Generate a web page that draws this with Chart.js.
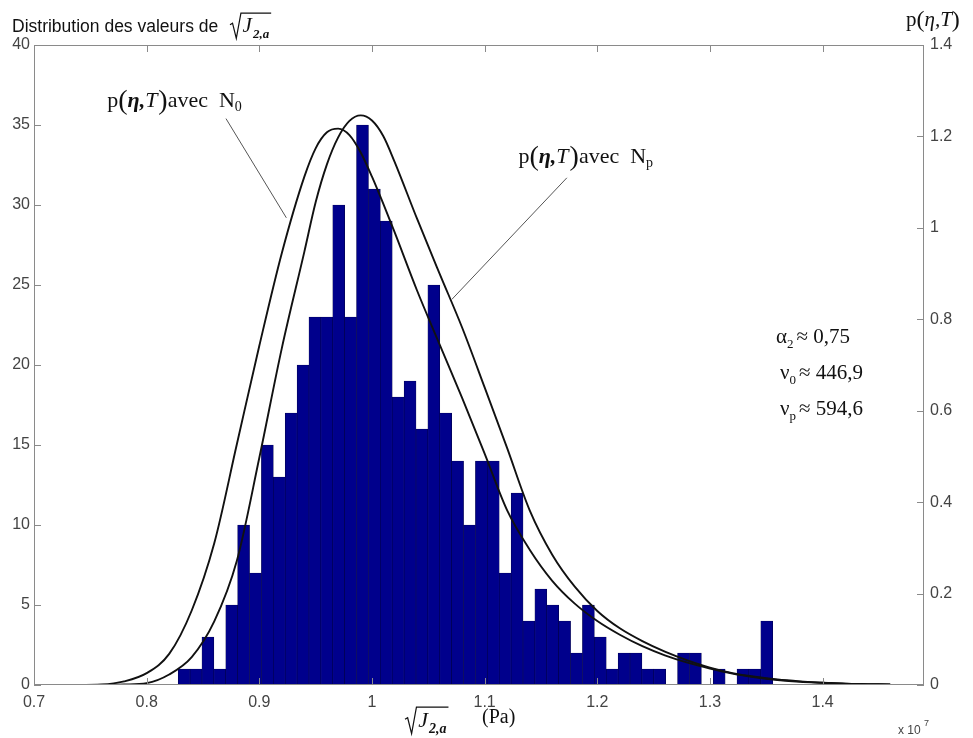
<!DOCTYPE html>
<html>
<head>
<meta charset="utf-8">
<script src="https://cdn.jsdelivr.net/npm/chart.js@4/dist/chart.umd.min.js"></script>
<style>
  body { margin: 0; background: #fff; }
  canvas { display: block; }
</style>
</head>
<body>
<canvas id="myChart" width="973" height="738"></canvas>
<script>
// axis ticks
var xTicks = [0.7, 0.8, 0.9, 1.0, 1.1, 1.2, 1.3, 1.4];
var countTicks = [0, 5, 10, 15, 20, 25, 30, 35, 40];
var probTicks = [0, 0.2, 0.4, 0.6, 0.8, 1.0, 1.2, 1.4];

// histogram: 50 bins (x 1e7 Pa), counts
var binStart = 0.8280;
var binWidth = 0.010554;
var counts = [1, 1, 3, 1, 5, 10, 7, 15, 13, 17,
              20, 23, 23, 30, 23, 35, 31, 29, 18, 19,
              16, 25, 17, 14, 10, 14, 14, 7, 12, 4,
              6, 5, 4, 2, 5, 3, 1, 2, 2, 1,
              1, 0, 2, 2, 0, 1, 0, 1, 1, 4];

// the two p(eta,T) curves (right axis)
var curveX = [0.70, 0.72, 0.74, 0.76, 0.78, 0.80, 0.82, 0.84, 0.86, 0.88, 0.90, 0.92, 0.94,
              0.95, 0.96, 0.97, 0.98, 0.99, 1.00, 1.01, 1.02,
              1.04, 1.06, 1.08, 1.10, 1.12, 1.14, 1.16, 1.18, 1.20, 1.22, 1.24,
              1.26, 1.28, 1.30, 1.32, 1.34, 1.36, 1.38, 1.40, 1.42, 1.44, 1.46];
var pN0 = [0, 0, 0, 0.001, 0.008, 0.026, 0.068, 0.163, 0.31, 0.526, 0.742, 0.945, 1.112,
           1.174, 1.209, 1.217, 1.203, 1.165, 1.112, 1.053, 0.991,
           0.863, 0.745, 0.628, 0.506, 0.382, 0.296, 0.228, 0.178, 0.140, 0.110, 0.085,
           0.065, 0.049, 0.036, 0.025, 0.017, 0.011, 0.007, 0.005, 0.003, 0.002, 0.001];
var pNp = [0, 0, 0, 0, 0.001, 0.004, 0.023, 0.061, 0.139, 0.271, 0.497, 0.737, 0.948,
           1.056, 1.139, 1.198, 1.234, 1.246, 1.235, 1.201, 1.145,
           1.02, 0.90, 0.782, 0.651, 0.518, 0.382, 0.285, 0.215, 0.162, 0.124, 0.096,
           0.073, 0.054, 0.038, 0.026, 0.018, 0.012, 0.008, 0.005, 0.003, 0.002, 0.001];

var SERIF = '"Liberation Serif", "Times New Roman", serif';
var SANS = '"Liberation Sans", Arial, sans-serif';

function toPoints(xs, ys) {
  return xs.map(function (x, i) { return { x: x, y: ys[i] }; });
}

var histPoints = counts.map(function (c, i) {
  return { x: binStart + (i + 0.5) * binWidth, y: c };
});

// writes a run of text pieces, returns the end x
function drawRuns(ctx, runs, x, y) {
  runs.forEach(function (r) {
    ctx.font = r.f;
    ctx.fillText(r.t, x, y + (r.dy || 0));
    x += ctx.measureText(r.t).width + (r.sp || 0);
  });
  return x;
}

// sqrt(J_{2,a}) with baseline y
function drawSqrtJ(ctx, x, y, s) {
  ctx.save();
  ctx.textBaseline = 'alphabetic';
  ctx.textAlign = 'left';
  var x0 = x + s * 0.6;
  var end = drawRuns(ctx, [
    { t: 'J', f: 'italic ' + s + 'px ' + SERIF, sp: 1 },
    { t: '2,a', f: 'italic bold ' + Math.round(s * 0.62) + 'px ' + SERIF, dy: s * 0.28 }
  ], x0, y);
  ctx.strokeStyle = '#111';
  ctx.lineWidth = 1.2;
  ctx.beginPath();
  ctx.moveTo(x, y - s * 0.35);
  ctx.lineTo(x + s * 0.12, y - s * 0.42);
  ctx.lineTo(x + s * 0.3, y + s * 0.3);
  ctx.lineTo(x + s * 0.52, y - s * 0.9);
  ctx.lineTo(end + 2, y - s * 0.9);
  ctx.stroke();
  ctx.restore();
}

function pEta(ctx, x, y, sub) {
  var f = '22px ' + SERIF;
  var fi = 'italic bold 22px ' + SERIF;
  var fp = '28px ' + SERIF;
  drawRuns(ctx, [
    { t: 'p', f: f },
    { t: '(', f: fp, dy: 2 },
    { t: '\u03B7,', f: fi },
    { t: 'T', f: 'italic 22px ' + SERIF, sp: 1 },
    { t: ')', f: fp, dy: 2 },
    { t: 'avec  N', f: f },
    { t: sub, f: '14px ' + SERIF, dy: 4 }
  ], x, y);
}

var framePlugin = {
  id: 'frame',
  afterDatasetsDraw: function (chart) {
    var ctx = chart.ctx, a = chart.chartArea;
    var sx = chart.scales.x, sy = chart.scales.y, sy1 = chart.scales.y1;
    ctx.save();
    ctx.strokeStyle = '#8a8a8a';
    ctx.lineWidth = 1;
    ctx.strokeRect(a.left + 0.5, a.top + 0.5, a.right - a.left - 1, a.bottom - a.top - 1);
    ctx.beginPath();
    xTicks.forEach(function (v) {
      var px = Math.round(sx.getPixelForValue(v)) + 0.5;
      ctx.moveTo(px, a.bottom); ctx.lineTo(px, a.bottom - 7);
      ctx.moveTo(px, a.top); ctx.lineTo(px, a.top + 7);
    });
    countTicks.forEach(function (v) {
      var py = Math.round(sy.getPixelForValue(v)) + 0.5;
      ctx.moveTo(a.left, py); ctx.lineTo(a.left + 7, py);
    });
    probTicks.forEach(function (v) {
      var py = Math.round(sy1.getPixelForValue(v)) + 0.5;
      ctx.moveTo(a.right, py); ctx.lineTo(a.right - 7, py);
    });
    ctx.stroke();

    // leader lines of the two labels
    ctx.strokeStyle = '#555';
    ctx.beginPath();
    ctx.moveTo(sx.getPixelForValue(0.8704), sy.getPixelForValue(35.4));
    ctx.lineTo(sx.getPixelForValue(0.9240), sy.getPixelForValue(29.2));
    ctx.moveTo(sx.getPixelForValue(1.1730), sy.getPixelForValue(31.7));
    ctx.lineTo(sx.getPixelForValue(1.0709), sy.getPixelForValue(24.1));
    ctx.stroke();

    ctx.fillStyle = '#111';
    ctx.textBaseline = 'alphabetic';
    ctx.textAlign = 'left';
    pEta(ctx, sx.getPixelForValue(0.7650), sy.getPixelForValue(36.1), '0');
    pEta(ctx, sx.getPixelForValue(1.1300), sy.getPixelForValue(32.6), 'p');
    ctx.restore();
  },
  afterDraw: function (chart) {
    var ctx = chart.ctx;
    ctx.save();
    ctx.fillStyle = '#111';
    ctx.textBaseline = 'alphabetic';
    ctx.textAlign = 'left';
    // title
    ctx.font = '17.5px ' + SANS;
    ctx.fillText('Distribution des valeurs de', 12, 32);
    drawSqrtJ(ctx, 230, 32, 21);
    // right axis title
    drawRuns(ctx, [
      { t: 'p', f: '21px ' + SERIF },
      { t: '(', f: '24px ' + SERIF, dy: 1 },
      { t: '\u03B7,', f: 'italic 21px ' + SERIF },
      { t: 'T', f: 'italic 21px ' + SERIF },
      { t: ')', f: '24px ' + SERIF, dy: 1 }
    ], 906, 26);
    // x axis title
    drawSqrtJ(ctx, 405, 727, 22);
    ctx.font = '20px ' + SERIF;
    ctx.fillText('(Pa)', 482, 723);
    // exponent
    ctx.fillStyle = '#444';
    ctx.font = '12px ' + SANS;
    ctx.fillText('x 10', 898, 734);
    ctx.font = '9px ' + SANS;
    ctx.fillText('7', 924, 726);
    // parameters
    ctx.fillStyle = '#111';
    var f = '21px ' + SERIF, fs = '13px ' + SERIF;
    drawRuns(ctx, [{ t: '\u03B1', f: f }, { t: '2', f: fs, dy: 5, sp: 3 }, { t: '\u2248 0,75', f: f }], 776, 343);
    drawRuns(ctx, [{ t: '\u03BD', f: f }, { t: '0', f: fs, dy: 5, sp: 3 }, { t: '\u2248 446,9', f: f }], 780, 379);
    drawRuns(ctx, [{ t: '\u03BD', f: f }, { t: 'p', f: fs, dy: 5, sp: 3 }, { t: '\u2248 594,6', f: f }], 780, 415);
    ctx.restore();
  }
};

var tickFont = { family: SANS, size: 16 };
var tickColor = '#444';

var ctx = document.getElementById('myChart');
var myChart = new Chart(ctx, {
  data: {
    datasets: [
      {
        type: 'line',
        label: 'p(eta,T) avec N0',
        data: toPoints(curveX, pN0),
        yAxisID: 'y1',
        borderColor: '#111',
        borderWidth: 1.9,
        pointRadius: 0,
        cubicInterpolationMode: 'monotone',
        fill: false,
        order: 1
      },
      {
        type: 'line',
        label: 'p(eta,T) avec Np',
        data: toPoints(curveX, pNp),
        yAxisID: 'y1',
        borderColor: '#111',
        borderWidth: 1.9,
        pointRadius: 0,
        cubicInterpolationMode: 'monotone',
        fill: false,
        order: 1
      },
      {
        type: 'bar',
        label: 'Distribution',
        data: histPoints,
        yAxisID: 'y',
        backgroundColor: '#00008c',
        borderColor: '#00004a',
        borderWidth: 0.6,
        barPercentage: 1,
        categoryPercentage: 1,
        order: 2
      }
    ]
  },
  options: {
    responsive: false,
    devicePixelRatio: 1,
    animation: false,
    layout: { padding: { top: 45, left: 0, right: 0, bottom: 0 } },
    plugins: {
      legend: { display: false },
      tooltip: { enabled: false }
    },
    scales: {
      x: {
        type: 'linear',
        offset: false,
        min: 0.7,
        max: 1.49,
        grid: { display: false, drawTicks: false, offset: false },
        border: { display: false },
        afterBuildTicks: function (s) { s.ticks = xTicks.map(function (v) { return { value: v }; }); },
        afterFit: function (s) { s.height = 53; },
        ticks: {
          autoSkip: false,
          maxRotation: 0,
          padding: 8,
          font: tickFont,
          color: tickColor,
          callback: function (v) { return String(+v.toFixed(1)); }
        }
      },
      y: {
        position: 'left',
        min: 0,
        max: 40,
        grid: { display: false, drawTicks: false },
        border: { display: false },
        afterBuildTicks: function (s) { s.ticks = countTicks.map(function (v) { return { value: v }; }); },
        afterFit: function (s) { s.width = 34; },
        ticks: { padding: 4, font: tickFont, color: tickColor }
      },
      y1: {
        position: 'right',
        min: 0,
        max: 1.4,
        grid: { display: false, drawTicks: false },
        border: { display: false },
        afterBuildTicks: function (s) { s.ticks = probTicks.map(function (v) { return { value: v }; }); },
        afterFit: function (s) { s.width = 49; },
        ticks: {
          padding: 6,
          font: tickFont,
          color: tickColor,
          callback: function (v) { return String(+v.toFixed(1)); }
        }
      }
    }
  },
  plugins: [framePlugin]
});
</script>
</body>
</html>
